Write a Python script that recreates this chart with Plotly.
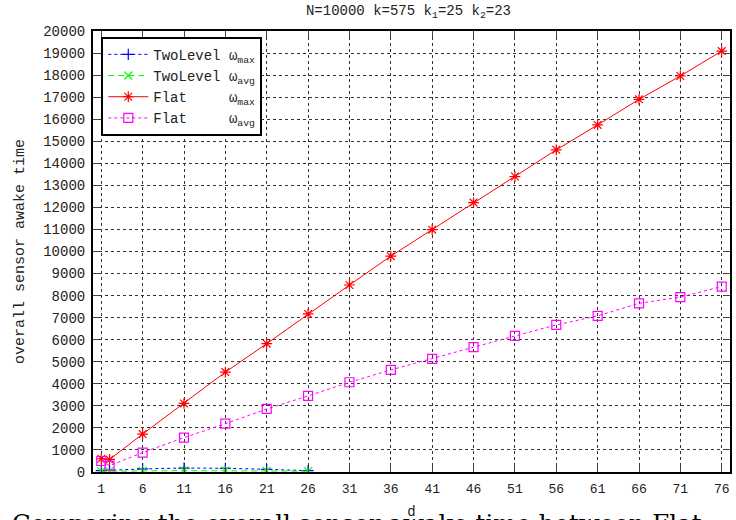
import plotly.graph_objects as go

d_vals = [1, 2, 6, 11, 16, 21, 26, 31, 36, 41, 46, 51, 56, 61, 66, 71, 76]
flat_max = [600, 570, 1720, 3110, 4530, 5820, 7170, 8480, 9790, 10990, 12220, 13400, 14610, 15740, 16900, 17960, 19090]
flat_avg = [500, 290, 880, 1560, 2190, 2860, 3450, 4070, 4630, 5130, 5660, 6170, 6670, 7080, 7650, 7930, 8410]
tl_d = [1, 2, 6, 11, 16, 21, 26]
tl_max = [60, 80, 140, 180, 170, 120, 60]
tl_avg = [30, 40, 50, 60, 60, 50, 40]

x_ticks = [1, 6, 11, 16, 21, 26, 31, 36, 41, 46, 51, 56, 61, 66, 71, 76]
y_ticks = list(range(0, 20001, 1000))

mono = "Liberation Mono"
fig = go.Figure()
fig.add_trace(go.Scatter(x=tl_d, y=tl_max, mode="lines+markers",
    name="TwoLevel\u00a0\u03c9<sub>max</sub>",
    line=dict(color="#0000ff", width=1, dash="3px,3px"),
    marker=dict(symbol="cross-thin-open", size=8, line=dict(color="#0000ff", width=1.2))))
fig.add_trace(go.Scatter(x=tl_d, y=tl_avg, mode="lines+markers",
    name="TwoLevel\u00a0\u03c9<sub>avg</sub>",
    line=dict(color="#00ff00", width=1, dash="6px,4px"),
    marker=dict(symbol="x-thin-open", size=8, line=dict(color="#00ff00", width=1.2))))
fig.add_trace(go.Scatter(x=d_vals, y=flat_max, mode="lines+markers",
    name="Flat\u00a0\u00a0\u00a0\u00a0\u00a0\u03c9<sub>max</sub>",
    line=dict(color="#ff0000", width=1),
    marker=dict(symbol="asterisk-open", size=9, line=dict(color="#ff0000", width=1.2))))
fig.add_trace(go.Scatter(x=d_vals, y=flat_avg, mode="lines+markers",
    name="Flat\u00a0\u00a0\u00a0\u00a0\u00a0\u03c9<sub>avg</sub>",
    line=dict(color="#ff00ff", width=1, dash="dot"),
    marker=dict(symbol="square-open", size=9, line=dict(color="#ff00ff", width=1.2))))

fig.update_layout(
    width=736, height=520,
    margin=dict(l=93, r=6, t=31, b=48, autoexpand=False),
    paper_bgcolor="white", plot_bgcolor="white",
    font=dict(family=mono, size=13, color="#222"),
    title=dict(text="N=10000 k=575 k<sub>1</sub>=25 k<sub>2</sub>=23",
               x=0.555, xanchor="center", y=0.99, yanchor="top",
               font=dict(family=mono, size=14, color="#222")),
    legend=dict(x=0.013, y=0.987, xanchor="left", yanchor="top",
                bgcolor="white", bordercolor="#000", borderwidth=2,
                font=dict(family=mono, size=14, color="#222"),
                tracegroupgap=0, itemwidth=40),
    xaxis=dict(range=[0, 77], tickvals=x_ticks, ticks="inside", ticklen=6,
               mirror="ticks", showline=True, linecolor="#000", linewidth=2,
               showgrid=True, gridcolor="#333", griddash="dot", gridwidth=1,
               zeroline=False, tickfont=dict(size=13), automargin=False,
               ticklabelstandoff=3,
               title=dict(text="d", font=dict(size=14), standoff=11)),
    yaxis=dict(range=[0, 20000], tickvals=y_ticks, tickformat="d", ticks="inside", ticklen=6,
               mirror="ticks", showline=True, linecolor="#000", linewidth=2,
               showgrid=True, gridcolor="#333", griddash="dot", gridwidth=1,
               zeroline=False, tickfont=dict(size=14), ticklabelstandoff=3, automargin=False,
               title=dict(text="overall sensor awake time", font=dict(size=15), standoff=15)),
)

fig.add_annotation(text="Comparing the overall sensor awake time between Flat",
                   xref="paper", yref="paper", x=-0.13, y=-0.08,
                   xanchor="left", yanchor="top", showarrow=False,
                   font=dict(family="DejaVu Serif", size=24.5, color="#000"))

fig.write_html("out.html")
